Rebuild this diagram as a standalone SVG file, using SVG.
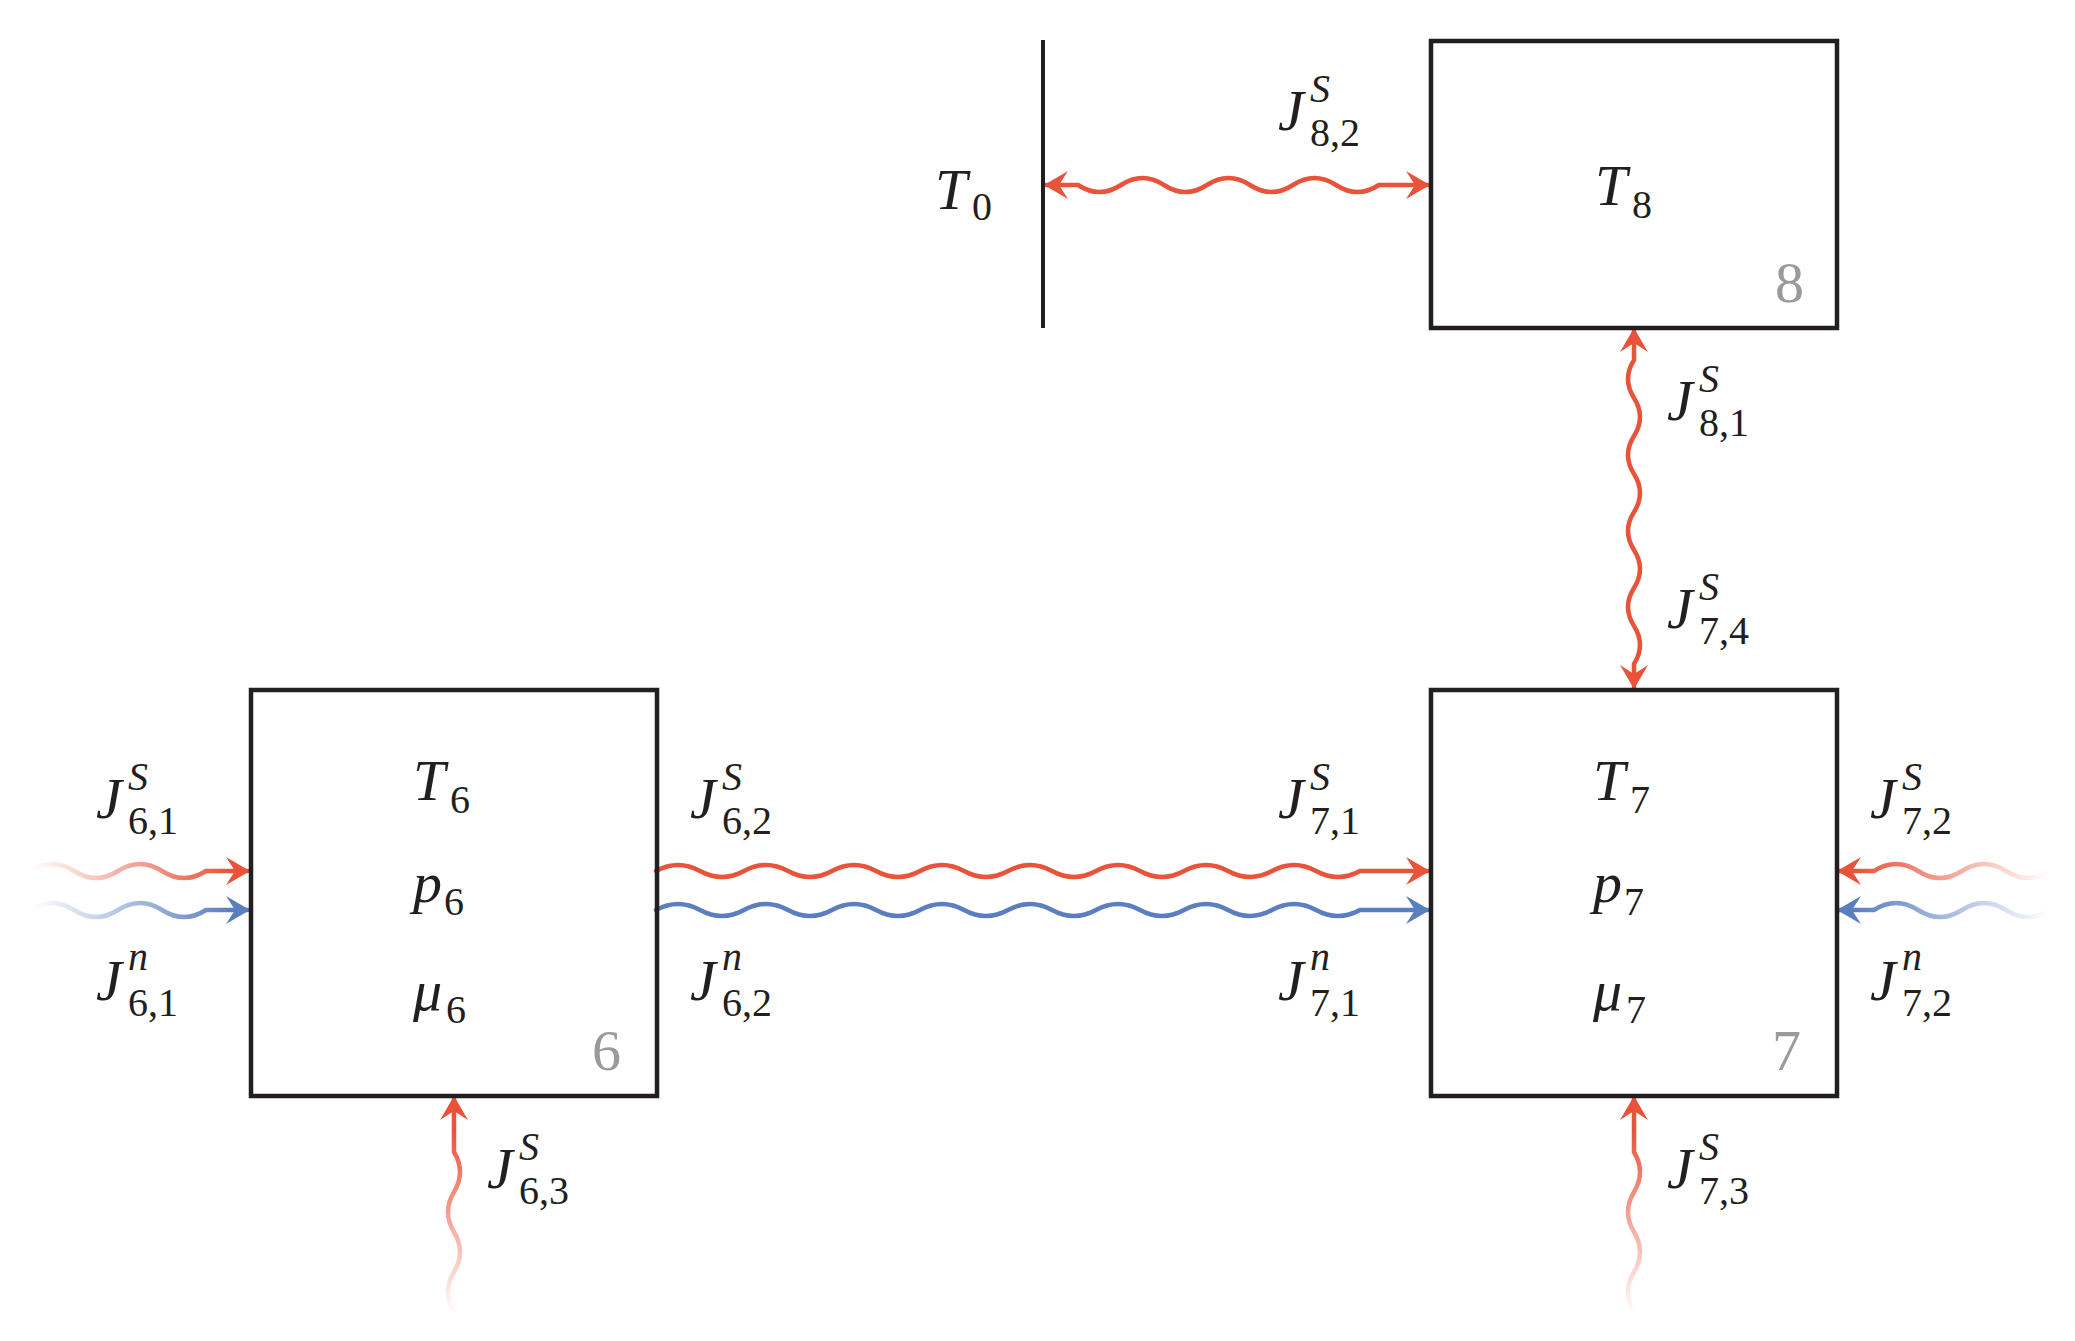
<svg xmlns="http://www.w3.org/2000/svg" width="2075" height="1341" viewBox="0 0 2075 1341">
<style>
.box{fill:none;stroke:#231f20;stroke-width:4.5}
.w{fill:none;stroke-width:4.5;stroke-linecap:round}
.m{font-family:"Liberation Serif",serif;font-style:italic;font-size:58px;fill:#231f20}
.s{font-family:"Liberation Serif",serif;font-size:40px;fill:#231f20}
.si{font-family:"Liberation Serif",serif;font-style:italic;font-size:40px;fill:#231f20}
.g{font-family:"Liberation Serif",serif;font-size:58px;fill:#9a9a9a}
</style>
<defs>
<marker id="ar" markerUnits="userSpaceOnUse" markerWidth="40" markerHeight="40" viewBox="-30 -20 40 40" refX="0" refY="0" orient="auto-start-reverse"><path d="M2,0 L-22,-14 L-13,0 L-22,14Z" fill="#E8533A"/></marker>
<marker id="ab" markerUnits="userSpaceOnUse" markerWidth="40" markerHeight="40" viewBox="-30 -20 40 40" refX="0" refY="0" orient="auto-start-reverse"><path d="M2,0 L-22,-14 L-13,0 L-22,14Z" fill="#5A7FBF"/></marker>
<linearGradient id="gl" gradientUnits="userSpaceOnUse" x1="30" y1="0" x2="230" y2="0"><stop offset="0" stop-color="#E8533A" stop-opacity="0"/><stop offset="1" stop-color="#E8533A"/></linearGradient>
<linearGradient id="glb" gradientUnits="userSpaceOnUse" x1="30" y1="0" x2="230" y2="0"><stop offset="0" stop-color="#5A7FBF" stop-opacity="0"/><stop offset="1" stop-color="#5A7FBF"/></linearGradient>
<linearGradient id="gr" gradientUnits="userSpaceOnUse" x1="2050" y1="0" x2="1855" y2="0"><stop offset="0" stop-color="#E8533A" stop-opacity="0"/><stop offset="1" stop-color="#E8533A"/></linearGradient>
<linearGradient id="grb" gradientUnits="userSpaceOnUse" x1="2050" y1="0" x2="1855" y2="0"><stop offset="0" stop-color="#5A7FBF" stop-opacity="0"/><stop offset="1" stop-color="#5A7FBF"/></linearGradient>
<linearGradient id="gb" gradientUnits="userSpaceOnUse" x1="0" y1="1315" x2="0" y2="1130"><stop offset="0" stop-color="#E8533A" stop-opacity="0"/><stop offset="1" stop-color="#E8533A"/></linearGradient>
</defs>
<g id="connectors">
<path class="w" stroke="#E8533A" marker-end="url(#ar)" d="M656,871 q22,-12 44,0 t44,0 t44,0 t44,0 t44,0 t44,0 t44,0 t44,0 t44,0 t44,0 t44,0 t44,0 t44,0 t44,0 t44,0 t44,0 L1428,871"/>
<path class="w" stroke="#5A7FBF" marker-end="url(#ab)" d="M656,910 q22,-12 44,0 t44,0 t44,0 t44,0 t44,0 t44,0 t44,0 t44,0 t44,0 t44,0 t44,0 t44,0 t44,0 t44,0 t44,0 t44,0 L1428,910"/>
<path class="w" stroke="#E8533A" marker-start="url(#ar)" marker-end="url(#ar)" d="M1046,185 L1078,185 q21.5,14 43,0 t43,0 t43,0 t43,0 t43,0 t43,0 t43,0 L1428,185"/>
<path class="w" stroke="#E8533A" marker-start="url(#ar)" marker-end="url(#ar)" d="M1634,330 L1634,360 q-12,19 0,38 t0,38 t0,38 t0,38 t0,38 t0,38 t0,38 t0,38 L1634,687"/>
<path class="w" stroke="url(#gl)" marker-end="url(#ar)" d="M30,871 q22,-14 44,0 t44,0 t44,0 t44,0 L248,871"/>
<path class="w" stroke="url(#glb)" marker-end="url(#ab)" d="M30,910 q22,-14 44,0 t44,0 t44,0 t44,0 L248,910"/>
<path class="w" stroke="url(#gr)" marker-end="url(#ar)" d="M2050,871 q-22,14 -44,0 t-44,0 t-44,0 t-44,0 L1839,871"/>
<path class="w" stroke="url(#grb)" marker-end="url(#ab)" d="M2050,910 q-22,14 -44,0 t-44,0 t-44,0 t-44,0 L1839,910"/>
<path class="w" stroke="url(#gb)" marker-end="url(#ar)" d="M454,1312 q-12,-20 0,-40 t0,-40 t0,-40 t0,-40 L454,1098"/>
<path class="w" stroke="url(#gb)" marker-end="url(#ar)" d="M1634,1312 q-12,-20 0,-40 t0,-40 t0,-40 t0,-40 L1634,1098"/>
</g>
<g id="wall"><line x1="1043" y1="40" x2="1043" y2="328" stroke="#231f20" stroke-width="4"/><text class="m" x="935" y="209">T</text><text class="s" x="972" y="220">0</text></g>
<g id="node8"><rect class="box" x="1431" y="41" width="406" height="287"/><text class="m" x="1595" y="205">T</text><text class="s" x="1632" y="218">8</text><text class="g" x="1775" y="302">8</text></g>
<g id="node6"><rect class="box" x="251" y="690" width="406" height="406"/>
<text class="m" x="413" y="800">T</text><text class="s" x="450" y="813">6</text>
<text class="m" x="413" y="902">p</text><text class="s" x="444" y="915">6</text>
<text class="m" x="413" y="1010">μ</text><text class="s" x="446" y="1023">6</text>
<text class="g" x="592" y="1070">6</text></g>
<g id="node7"><rect class="box" x="1431" y="690" width="406" height="406"/>
<text class="m" x="1593" y="800">T</text><text class="s" x="1630" y="813">7</text>
<text class="m" x="1593" y="902">p</text><text class="s" x="1624" y="915">7</text>
<text class="m" x="1593" y="1010">μ</text><text class="s" x="1626" y="1023">7</text>
<text class="g" x="1772" y="1070">7</text></g>
<g id="labels">
<text class="m" x="96" y="818">J</text><text class="si" x="128" y="790">S</text><text class="s" x="128" y="834">6,1</text>
<text class="m" x="96" y="1000">J</text><text class="si" x="128" y="970">n</text><text class="s" x="128" y="1016">6,1</text>
<text class="m" x="690" y="818">J</text><text class="si" x="722" y="790">S</text><text class="s" x="722" y="834">6,2</text>
<text class="m" x="690" y="1000">J</text><text class="si" x="722" y="970">n</text><text class="s" x="722" y="1016">6,2</text>
<text class="m" x="1278" y="818">J</text><text class="si" x="1310" y="790">S</text><text class="s" x="1310" y="834">7,1</text>
<text class="m" x="1278" y="1000">J</text><text class="si" x="1310" y="970">n</text><text class="s" x="1310" y="1016">7,1</text>
<text class="m" x="1870" y="818">J</text><text class="si" x="1902" y="790">S</text><text class="s" x="1902" y="834">7,2</text>
<text class="m" x="1870" y="1000">J</text><text class="si" x="1902" y="970">n</text><text class="s" x="1902" y="1016">7,2</text>
<text class="m" x="487" y="1188">J</text><text class="si" x="519" y="1160">S</text><text class="s" x="519" y="1204">6,3</text>
<text class="m" x="1667" y="1188">J</text><text class="si" x="1699" y="1160">S</text><text class="s" x="1699" y="1204">7,3</text>
<text class="m" x="1667" y="420">J</text><text class="si" x="1699" y="392">S</text><text class="s" x="1699" y="436">8,1</text>
<text class="m" x="1667" y="628">J</text><text class="si" x="1699" y="600">S</text><text class="s" x="1699" y="644">7,4</text>
<text class="m" x="1278" y="130">J</text><text class="si" x="1310" y="102">S</text><text class="s" x="1310" y="146">8,2</text>
</g>
</svg>
